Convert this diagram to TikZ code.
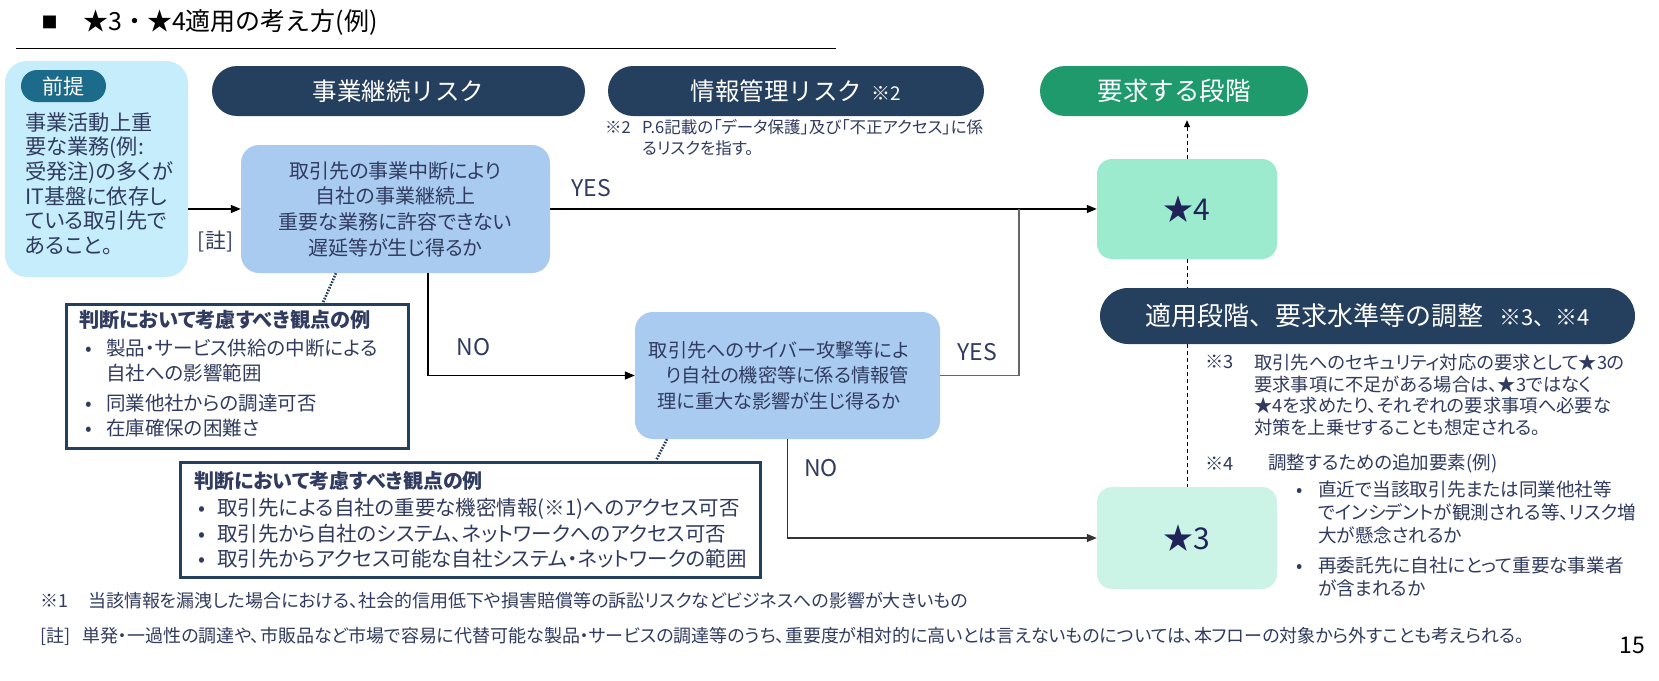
\documentclass[tikz,border=0pt]{standalone}
\usepackage{fontspec}
\setmainfont{Noto Sans CJK JP}[RawFeature=+palt]
\newfontfamily\jpfull{Noto Sans CJK JP}
\usetikzlibrary{arrows.meta}
\definecolor{cNavy}{HTML}{253F5E}
\definecolor{cTag}{HTML}{1D6B8A}
\definecolor{cPrem}{HTML}{C5EDFB}
\definecolor{cBox}{HTML}{A9CBEF}
\definecolor{cSfour}{HTML}{9DEBCF}
\definecolor{cSthree}{HTML}{CBF4E6}
\definecolor{cGreen}{HTML}{1F9A6D}
\definecolor{cText}{HTML}{303B5F}
\definecolor{cStar}{HTML}{1F2358}
\newcommand\fsz[2]{\fontsize{#1}{#2}\selectfont}
\newcommand\bltx[2]{\hspace*{#1}\makebox[#2][l]{•}}
\newcommand\rsh{\hspace*{17pt}}
\begin{document}
\begin{tikzpicture}[x=1pt,y=-1pt,
  pill/.style={fill=cNavy,text=white,rounded corners=25pt,minimum height=50pt,inner sep=0pt,font={\jpfull\fsz{24.5}{30}}},
  qbox/.style={fill=cBox,rounded corners=18pt,inner sep=0pt,align=center,text=cText},
  sbox/.style={rounded corners=15pt,minimum width=180pt,inner sep=0pt,text=cStar,font={\fsz{30}{34}}},
  notebox/.style={draw=cNavy,line width=3pt,fill=white,inner sep=0pt},
  txt/.style={inner sep=0pt,text=cText,align=left},
  arr/.style={-{Triangle[length=10pt,width=8pt]},line width=1.3pt,black},
  garr/.style={line width=1.6pt,black!60},
  dline/.style={dash pattern=on 4pt off 3pt,line width=1pt,black},
  dotl/.style={dash pattern=on 1.6pt off 1.4pt,line width=2.6pt,cNavy}]
\useasboundingbox (0,0) rectangle (1659,680);
\fill[white] (0,0) rectangle (1659,680);

% title
\node[inner sep=0pt,font={\fsz{16}{18}}] (sq) at (49.5,22) {■};
\node[inner sep=0pt,anchor=west,font={\jpfull\fsz{25}{28}}] (title) at (83,22) {★3・★4適用の考え方(例)};
\draw[line width=1pt] (16,48) -- (836,48);

% header pills
\node[pill,minimum width=373pt] (risk1) at (398.5,91) {事業継続リスク};
\node[pill,minimum width=376pt] (risk2) at (796,91) {情報管理リスク\hspace{9pt}{\fsz{19}{22}※2}};
\node[pill,fill=cGreen,minimum width=268pt,font={\jpfull\fsz{25.5}{30}}] (goal) at (1174,91) {要求する段階};
\node[txt,anchor=west,font={\fsz{16.5}{21}}] (r2m) at (605,127) {※2};
\node[txt,anchor=west,font={\fsz{16.5}{21}}] (r2t) at (642,137.5) {P.6記載の「データ保護」及び「不正アクセス」に係\\るリスクを指す。};

% premise
\node[fill=cPrem,rounded corners=22pt,minimum width=183pt,minimum height=216pt,inner sep=0pt] (prem) at (96.5,169) {};
\node[fill=cTag,text=white,rounded corners=16pt,minimum width=85pt,minimum height=32pt,inner sep=0pt,font={\fsz{21}{24}}] (tag) at (63.5,86) {前提};
\node[txt,anchor=west,font={\fsz{21.2}{24.6}}] (premtxt) at (25,183.5) {事業活動上重\\要な業務(例:\\受発注)の多くが\\IT基盤に依存し\\ている取引先で\\あること。};
\node[txt,font={\fsz{21}{24}}] (chu) at (215.5,241) {[註]};

% questions
\node[qbox,minimum width=309pt,minimum height=128pt,font={\fsz{20}{25.7}}] (q1) at (395.5,209) {取引先の事業中断により\\自社の事業継続上\\重要な業務に許容できない\\遅延等が生じ得るか};
\node[qbox,minimum width=305pt,minimum height=127pt,font={\fsz{19.2}{25.5}}] (q2) at (787.5,375.5) {取引先へのサイバー攻撃等によ\rsh\\り自社の機密等に係る情報管\rsh\\理に重大な影響が生じ得るか\rsh};

% star boxes
\node[sbox,fill=cSfour,minimum height=100pt] (s4) at (1187,209) {★4};
\node[sbox,fill=cSthree,minimum height=102pt] (s3) at (1187,538) {★3};
\node[pill,minimum width=535pt,minimum height=56pt,rounded corners=28pt,font={\jpfull\fsz{26}{30}}] (adj) at (1367.5,316) {適用段階、要求水準等の調整\hspace{16pt}{\fsz{22}{24}※3、※4}};

% labels
\node[txt,font={\fsz{23}{26}}] (yes1) at (591.5,188) {YES};
\node[txt,font={\fsz{23}{26}}] (no1) at (473.5,347) {NO};
\node[txt,font={\fsz{23}{26}}] (yes2) at (977.5,352) {YES};
\node[txt,font={\fsz{23}{26}}] (no2) at (821,468) {NO};

% note boxes
\node[notebox,minimum width=342pt,minimum height=144pt] (n1) at (237,376) {};
\node[txt,anchor=west,font={\fsz{19.5}{24.5}}] (n1t) at (79,373.5) {\textbf{\fsz{20.2}{24.5}判断において考慮すべき観点の例}\\[3.5pt]
\bltx{6pt}{21pt}製品・サービス供給の中断による\\
\hspace*{27pt}自社への影響範囲\\[5.5pt]
\bltx{6pt}{21pt}同業他社からの調達可否\\[0.5pt]
\bltx{6pt}{21pt}在庫確保の困難さ};
\node[notebox,minimum width=580pt,minimum height=115pt] (n2) at (470,519.5) {};
\node[txt,anchor=west,font={\fsz{20.5}{25.5}}] (n2t) at (194,520) {\textbf{\fsz{20}{25.5}判断において考慮すべき観点の例}\\[1.5pt]
\bltx{4pt}{19pt}取引先による自社の重要な機密情報(※1)へのアクセス可否\\
\bltx{4pt}{19pt}取引先から自社のシステム、ネットワークへのアクセス可否\\
\bltx{4pt}{19pt}取引先からアクセス可能な自社システム・ネットワークの範囲};

% right notes
\node[txt,anchor=west,font={\fsz{18.3}{21.7}}] (n3m) at (1205,362) {※3};
\node[txt,anchor=west,font={\fsz{18.3}{21.7}}] (n3t) at (1254,395) {取引先へのセキュリティ対応の要求として★3の\\要求事項に不足がある場合は、★3ではなく\\★4を求めたり、それぞれの要求事項へ必要な\\対策を上乗せすることも想定される。};
\node[txt,anchor=west,font={\fsz{18.3}{21.7}}] (n4m) at (1205,464) {※4};
\node[txt,anchor=west,font={\fsz{18.5}{21.7}}] (n4t) at (1268,464) {調整するための追加要素(例)};
\node[txt,anchor=west,font={\fsz{18.6}{23}}] (n4b) at (1296,538.5) {\bltx{0pt}{22pt}直近で当該取引先または同業他社等\\
\hspace*{22pt}でインシデントが観測される等、リスク増\\
\hspace*{22pt}大が懸念されるか\\[7pt]
\bltx{0pt}{22pt}再委託先に自社にとって重要な事業者\\
\hspace*{22pt}が含まれるか};

% footnotes
\node[txt,anchor=west,font={\fsz{18}{22}}] (fn1) at (40,601) {※1\hspace{20pt}当該情報を漏洩した場合における、社会的信用低下や損害賠償等の訴訟リスクなどビジネスへの影響が大きいもの};
\node[txt,anchor=west,font={\fsz{18}{22}}] (fn2) at (40,636) {[註]\hspace{12pt}単発・一過性の調達や、市販品など市場で容易に代替可能な製品・サービスの調達等のうち、重要度が相対的に高いとは言えないものについては、本フローの対象から外すことも考えられる。};
\node[inner sep=0pt,font={\fsz{23}{26}}] (pg) at (1632,645) {15};

% connectors
\coordinate (jn) at (1019,209);
\draw[arr] (prem.east |- q1.west) -- (q1.west);
\draw[arr] (q1.east) -- (s4.west);
\draw[garr] (q2.east) -| (jn);
\draw[arr] ([xshift=32.5pt]q1.south) |- (q2.west);
\draw[arr,black!80] (q2.south) |- (s3.west);
\draw[dline,-{Triangle[length=7pt,width=6pt]}] (s4.north) -- ([yshift=-4pt]goal.south -| s4.north);
\draw[dline] (s4.south) -- (adj.north -| s4.south);
\draw[dline] (adj.south -| s4.south) -- (s3.north);
\draw[dotl] (336,0 |- q1.south) -- (323,0 |- n1.north);
\draw[dotl] (667,0 |- q2.south) -- (656,0 |- n2.north);
\end{tikzpicture}
\end{document}
